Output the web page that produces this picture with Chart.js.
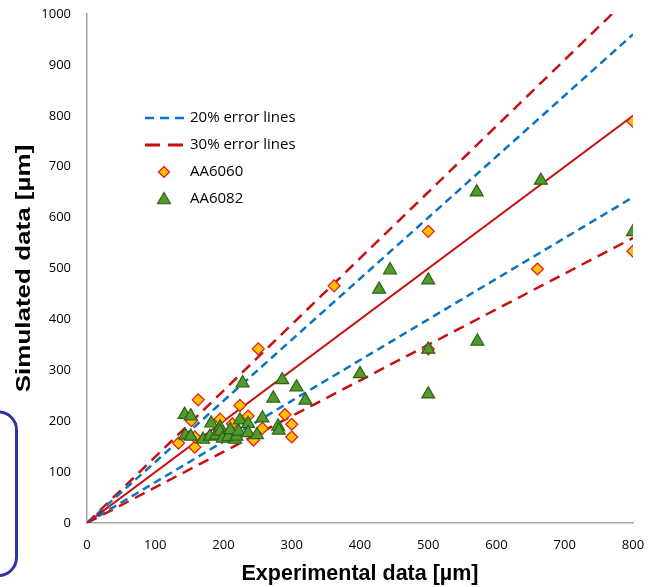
<!DOCTYPE html>
<html>
<head>
<meta charset="utf-8">
<script src="https://cdn.jsdelivr.net/npm/chart.js@4.4.1/dist/chart.umd.min.js"></script>
<style>
  html, body { margin: 0; padding: 0; background: #fff; }
  #wrap { width: 658px; height: 587px; position: relative; }
</style>
</head>
<body>
<div id="wrap"><canvas id="chart" width="658" height="587"></canvas></div>
<script>
// AA6060 measurements (experimental vs simulated, in µm)
const exp6060 = [134, 158, 158, 153, 163, 195, 213, 224, 236, 244, 251, 257, 290, 300, 300, 362, 500, 500, 660, 800, 800];
const sim6060 = [157, 149, 169, 201, 242, 204, 195, 231, 210, 163, 342, 186, 213, 194, 169, 466, 573, 342, 499, 789, 534];

// AA6082 measurements
const exp6082 = [143, 152, 144, 152, 170, 180, 182, 189, 195, 195, 199, 207, 210, 217, 219, 222, 224, 228, 236, 236,
                 249, 257, 273, 280, 281, 286, 307, 320, 400, 428, 444, 500, 500, 500, 572, 571, 665, 800];
const sim6082 = [213, 210, 172, 170, 164, 170, 196, 172, 188, 180, 166, 169, 183, 164, 170, 180, 202, 275, 195, 177,
                 173, 206, 245, 190, 182, 281, 267, 241, 293, 459, 497, 477, 341, 253, 357, 650, 673, 572];

// reference lines: perfect fit and +/-20%, +/-30% bands
const lineX = [0, 800];
const exactY = [0, 800];
const plus20Y = [0, 960];
const minus20Y = [0, 640];
const plus30Y = [0, 1040];
const minus30Y = [0, 560];

const xTicks = [0, 100, 200, 300, 400, 500, 600, 700, 800];
const yTicks = [0, 100, 200, 300, 400, 500, 600, 700, 800, 900, 1000];

const legendLabels = ['20% error lines', '30% error lines', 'AA6060', 'AA6082'];
const yTitle = 'Simulated data [µm]';

const BLUE = '#0a74c4';
const RED = '#c80f10';
const GOLD = '#ffc000';
const DIAMOND_EDGE = '#e3141c';
const GREEN = '#54992b';
const GREEN_EDGE = '#2a6314';

function pts(xs, ys) {
  return xs.map((v, i) => ({ x: v, y: ys[i] }));
}

function refLine(ys, color, dash, width) {
  return {
    data: pts(lineX, ys),
    showLine: true,
    borderColor: color,
    borderWidth: width,
    borderDash: dash,
    pointRadius: 0,
    pointHoverRadius: 0,
    fill: false
  };
}

function diamond(ctx, x, y, r) {
  ctx.beginPath();
  ctx.moveTo(x, y - r);
  ctx.lineTo(x + r, y);
  ctx.lineTo(x, y + r);
  ctx.lineTo(x - r, y);
  ctx.closePath();
  ctx.fillStyle = GOLD;
  ctx.fill();
  ctx.strokeStyle = DIAMOND_EDGE;
  ctx.lineWidth = 1.2;
  ctx.stroke();
}

function triangle(ctx, x, y, r) {
  ctx.beginPath();
  ctx.moveTo(x, y - r);
  ctx.lineTo(x + r * 0.866, y + r * 0.5);
  ctx.lineTo(x - r * 0.866, y + r * 0.5);
  ctx.closePath();
  ctx.fillStyle = GREEN;
  ctx.fill();
  ctx.strokeStyle = GREEN_EDGE;
  ctx.lineWidth = 1.2;
  ctx.stroke();
}

// legend sits inside the plot, upper left
const insideLegend = {
  id: 'insideLegend',
  afterDraw(chart) {
    const { ctx, chartArea } = chart;
    const lx = chartArea.left + 58;
    const ty = chartArea.top + 104;
    const step = 27;
    ctx.save();
    ctx.lineCap = 'butt';

    ctx.strokeStyle = BLUE;
    ctx.lineWidth = 2.5;
    ctx.setLineDash([9, 6]);
    ctx.beginPath();
    ctx.moveTo(lx, ty);
    ctx.lineTo(lx + 39, ty);
    ctx.stroke();

    ctx.strokeStyle = RED;
    ctx.lineWidth = 3;
    ctx.setLineDash([15, 8]);
    ctx.beginPath();
    ctx.moveTo(lx, ty + step);
    ctx.lineTo(lx + 38, ty + step);
    ctx.stroke();
    ctx.setLineDash([]);

    diamond(ctx, lx + 19, ty + step * 2, 5.5);
    triangle(ctx, lx + 19, ty + step * 3 + 1, 7.5);

    ctx.fillStyle = '#000';
    ctx.font = '15px "Open Sans"';
    ctx.textBaseline = 'middle';
    ctx.textAlign = 'left';
    legendLabels.forEach((t, i) => {
      ctx.fillText(t, lx + 45, ty + step * i);
    });
    ctx.restore();
  }
};

// vertical axis title, drawn a little stretched along its length
const sideTitle = {
  id: 'sideTitle',
  afterDraw(chart) {
    const { ctx, chartArea } = chart;
    ctx.save();
    ctx.translate(24, (chartArea.top + chartArea.bottom) / 2);
    ctx.rotate(-Math.PI / 2);
    ctx.scale(1.3, 1);
    ctx.font = 'bold 20px "Liberation Sans"';
    ctx.fillStyle = '#000';
    ctx.textAlign = 'center';
    ctx.textBaseline = 'middle';
    ctx.fillText(yTitle, 0, 0);
    ctx.restore();
  }
};

// rounded frame cut off at the left edge
const sideFrame = {
  id: 'sideFrame',
  afterDraw(chart) {
    const ctx = chart.ctx;
    ctx.save();
    ctx.strokeStyle = '#2d33a6';
    ctx.lineWidth = 3;
    ctx.beginPath();
    ctx.roundRect(-30, 412, 46.5, 163.5, 18);
    ctx.stroke();
    ctx.restore();
  }
};

const ctx = document.getElementById('chart').getContext('2d');

new Chart(ctx, {
  type: 'scatter',
  data: {
    datasets: [
      {
        data: pts(exp6082, sim6082),
        pointStyle: 'triangle',
        pointRadius: 7.5,
        backgroundColor: GREEN,
        borderColor: GREEN_EDGE,
        borderWidth: 1.2
      },
      {
        data: pts(exp6060, sim6060),
        pointStyle: 'rectRot',
        pointRadius: 6,
        backgroundColor: GOLD,
        borderColor: DIAMOND_EDGE,
        borderWidth: 1.2
      },
      refLine(exactY, RED, [], 2),
      refLine(plus20Y, BLUE, [8, 5], 2.5),
      refLine(minus20Y, BLUE, [8, 5], 2.5),
      refLine(plus30Y, RED, [11, 7], 2.5),
      refLine(minus30Y, RED, [11, 7], 2.5)
    ]
  },
  options: {
    responsive: false,
    animation: false,
    devicePixelRatio: 1,
    layout: { padding: { top: 14, right: 25, bottom: 0, left: 0 } },
    plugins: {
      legend: { display: false },
      tooltip: { enabled: false }
    },
    scales: {
      x: {
        type: 'linear',
        min: 0,
        max: 800,
        afterBuildTicks: s => { s.ticks = xTicks.map(v => ({ value: v })); },
        afterFit: s => {
          s.height = 64;
          s.paddingLeft = 0;
          s.paddingRight = 0;
        },
        grid: { display: false, drawTicks: false },
        border: { display: true, color: '#a6a6a6', width: 1.5 },
        ticks: {
          padding: 14,
          color: '#000',
          font: { family: '"Open Sans"', size: 13 },
          maxRotation: 0,
          callback: v => String(v)
        },
        title: {
          display: true,
          text: 'Experimental data [µm]',
          color: '#000',
          font: { family: '"Liberation Sans"', size: 21.5, weight: 'bold' },
          padding: { top: 0, bottom: 0 }
        }
      },
      y: {
        type: 'linear',
        min: 0,
        max: 1000,
        afterBuildTicks: s => { s.ticks = yTicks.map(v => ({ value: v })); },
        afterFit: s => {
          s.width = 87;
          s.paddingTop = 0;
          s.paddingBottom = 0;
        },
        grid: { display: false, drawTicks: false },
        border: { display: true, color: '#a6a6a6', width: 1.5 },
        ticks: {
          padding: 16,
          color: '#000',
          font: { family: '"Open Sans"', size: 13 },
          callback: v => String(v)
        },
        title: { display: false }
      }
    }
  },
  plugins: [insideLegend, sideTitle, sideFrame]
});
</script>
</body>
</html>
